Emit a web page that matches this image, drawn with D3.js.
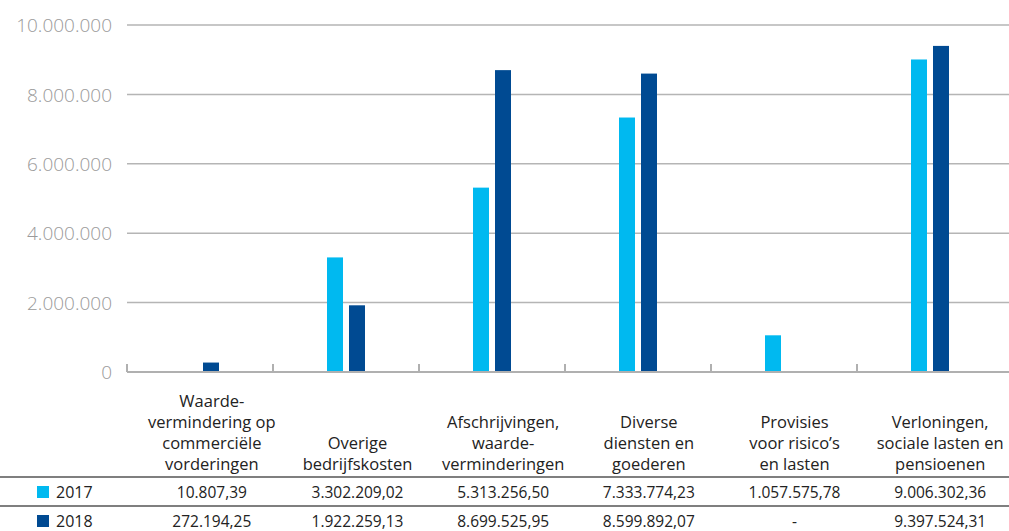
<!DOCTYPE html>
<html>
<head>
<meta charset="utf-8">
<script src="https://cdn.jsdelivr.net/npm/d3@7"></script>
<style>
  body { margin: 0; background: #fff; }
  text { font-family: "Open Sans", "Noto Sans", sans-serif; }
</style>
</head>
<body>
<svg id="chart"></svg>
<script>
// categories, lines split on '|'
const categories = [
  'Waarde-|vermindering op|commerciële|vorderingen',
  'Overige|bedrijfskosten',
  'Afschrijvingen,|waarde-|verminderingen',
  'Diverse|diensten en|goederen',
  'Provisies|voor risico’s|en lasten',
  'Verloningen,|sociale lasten en|pensioenen'
];
const years = ['2017', '2018'];
const values2017 = [10807.39, 3302209.02, 5313256.50, 7333774.23, 1057575.78, 9006302.36];
const values2018 = [272194.25, 1922259.13, 8699525.95, 8599892.07, null, 9397524.31];
const yTicks = [0, 2000000, 4000000, 6000000, 8000000, 10000000];
const colors = ['#00b9f0', '#004a92'];

const w = 1009, h = 531;
const svg = d3.select('#chart').attr('width', w).attr('height', h);

const nl = d3.formatLocale({decimal: ',', thousands: '.', grouping: [3], currency: ['€', '']});
const fmtTick = nl.format(',.0f');
const fmtVal = nl.format(',.2f');

const series = [values2017, values2018];

const xScale = d3.scaleBand().domain(categories).range([127, 1003]);
const xInner = d3.scaleBand().domain(years).range([54, 92]).paddingInner(0.2727);
const yScale = d3.scaleLinear().domain([0, 10000000]).range([372, 25]);

// gridlines
svg.append('g').selectAll('line').data(yTicks.slice(1)).enter().append('line')
    .attr('x1', 127).attr('x2', w)
    .attr('y1', d => yScale(d)).attr('y2', d => yScale(d))
    .attr('stroke', '#b5b5b5').attr('stroke-width', 1.5);

// y labels
const yAxisG = svg.append('g')
    .attr('transform', 'translate(112,0)')
    .call(d3.axisLeft(yScale).tickValues(yTicks).tickFormat(fmtTick).tickSize(0).tickPadding(0));
yAxisG.select('.domain').remove();
yAxisG.selectAll('text')
    .attr('fill', '#9a9a9a')
    .style('font-size', '19px')
    .style('font-weight', 300)
    .attr('dy', '0.35em');

// bars
const barG = svg.append('g');
series.forEach((vals, si) => {
  barG.append('g').selectAll('rect')
    .data(categories.map((c, i) => ({c: c, v: vals[i]})).filter(d => d.v != null))
    .enter().append('rect')
      .attr('x', d => xScale(d.c) + xInner(years[si]))
      .attr('width', xInner.bandwidth())
      .attr('y', d => yScale(d.v))
      .attr('height', d => yScale(0) - yScale(d.v))
      .attr('fill', colors[si]);
});

// baseline and category ticks
svg.append('line')
    .attr('x1', 127).attr('x2', w)
    .attr('y1', yScale(0)).attr('y2', yScale(0))
    .attr('stroke', '#b0b0b0').attr('stroke-width', 2);
svg.append('g').selectAll('line').data(categories).enter().append('line')
    .attr('x1', d => xScale(d)).attr('x2', d => xScale(d))
    .attr('y1', yScale(0)).attr('y2', yScale(0) - 8)
    .attr('stroke', '#b0b0b0').attr('stroke-width', 2);

// table below
const colScale = d3.scaleBand().domain(categories).range([139, 1013]);
const headG = svg.append('g');
categories.forEach(c => {
  const lines = c.split('|');
  const t = headG.append('text')
      .attr('text-anchor', 'middle')
      .attr('fill', '#222')
      .style('font-size', '16.5px');
  lines.forEach((ln, i) => {
    t.append('tspan')
      .attr('x', colScale(c) + colScale.bandwidth() / 2)
      .attr('y', 470 - (lines.length - 1 - i) * 21)
      .text(ln);
  });
});

[477, 506].forEach(y => {
  svg.append('line').attr('x1', 0).attr('x2', w).attr('y1', y).attr('y2', y)
    .attr('stroke', '#555').attr('stroke-width', 1.6);
});

const rowY = [498, 527];
series.forEach((vals, si) => {
  svg.append('rect').attr('x', 37).attr('y', rowY[si] - 12).attr('width', 12).attr('height', 12)
    .attr('fill', colors[si]);
  svg.append('text').attr('x', 56).attr('y', rowY[si])
    .attr('fill', '#222').style('font-size', '16px').text(years[si]);
  svg.append('g').selectAll('text').data(categories).enter().append('text')
    .attr('x', (d) => colScale(d) + colScale.bandwidth() / 2)
    .attr('y', rowY[si])
    .attr('text-anchor', 'middle')
    .attr('fill', '#222')
    .style('font-size', '15.5px')
    .text((d, i) => vals[i] == null ? '-' : fmtVal(vals[i]));
});
</script>
</body>
</html>
